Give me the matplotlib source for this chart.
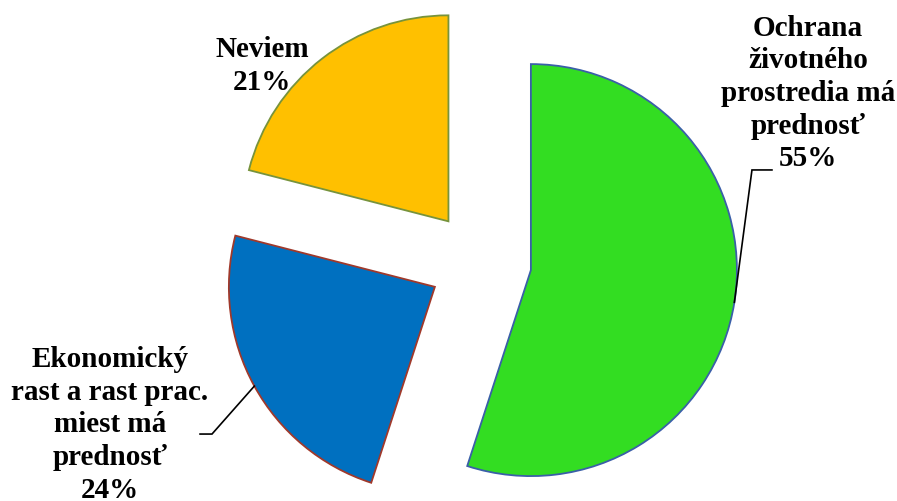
import numpy as np
import matplotlib
matplotlib.use("Agg")
import matplotlib.pyplot as plt

# survey answers, percent
labels = ["Ochrana\nživotného\nprostredia má\nprednosť", "Ekonomický\nrast a rast prac.\nmiest má\nprednosť", "Neviem"]
values = [55, 24, 21]
colors = ["#33DD22", "#0070C0", "#FFC000"]
edges = ["#3A5FA8", "#A0392B", "#77933C"]

fig = plt.figure(figsize=(8.97, 5.01), dpi=100)
ax = fig.add_axes([0, 0, 1, 1])

wedges, _ = ax.pie(values, colors=colors, startangle=90, counterclock=False,
                   explode=[0.25] * len(values), radius=1.0,
                   wedgeprops=dict(linewidth=1.3))
for w, ec in zip(wedges, edges):
    w.set_edgecolor(ec)

ax.set_xlim(-2.33, 2.024)
ax.set_ylim(-1.16, 1.272)
ax.set_aspect("auto")
ax.axis("off")

font = dict(family="Liberation Serif", weight="bold", fontsize=21,
            ha="center", va="center", linespacing=1.27)

# label block centres and leader elbows (layout)
text_pos = [(1.592, 0.818), (-1.796, -0.791), (-1.058, 0.951)]
elbows = [((1.320, 0.447), (1.417, 0.447)), ((-1.301, -0.835), (-1.359, -0.835)), None]

for w, lab, v, pos, elb in zip(wedges, labels, values, text_pos, elbows):
    ax.text(pos[0], pos[1], f"{lab}\n{v}%", **font)
    if elb is None:
        continue
    mid = np.deg2rad((w.theta1 + w.theta2) / 2)
    cx, cy = w.center
    px, py = cx + w.r * np.cos(mid), cy + w.r * np.sin(mid)
    ax.plot([px, elb[0][0], elb[1][0]], [py, elb[0][1], elb[1][1]],
            color="black", lw=1.2, solid_joinstyle="miter")

fig.savefig("out.png", dpi=100)
